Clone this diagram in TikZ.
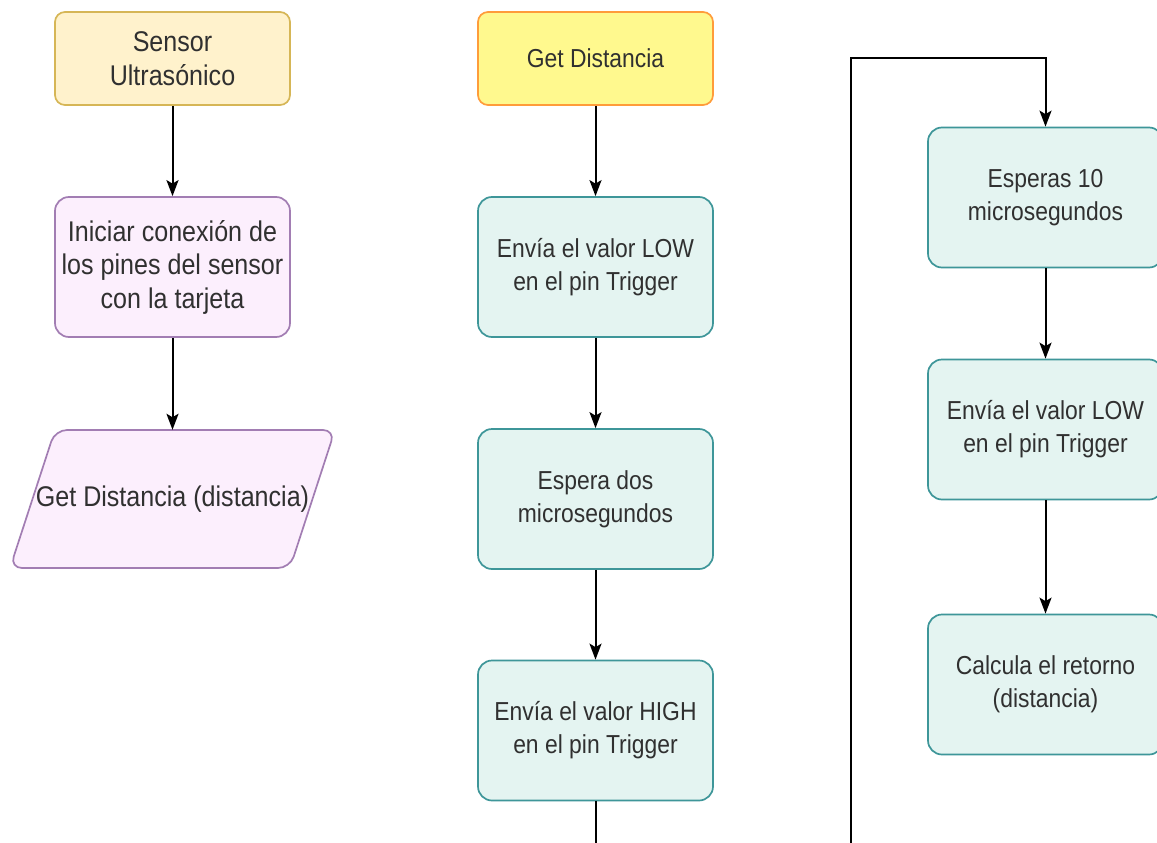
\documentclass[tikz,border=0pt]{standalone}
\usepackage{fontspec}
\setmainfont{Liberation Sans}[FakeStretch=0.88]
\usetikzlibrary{arrows.meta}
\definecolor{txt}{HTML}{303030}
\definecolor{sensfill}{HTML}{FFF2CC}
\definecolor{sensline}{HTML}{D6B656}
\definecolor{purfill}{HTML}{FCEFFD}
\definecolor{purline}{HTML}{A27DB3}
\definecolor{gdfill}{HTML}{FFF98E}
\definecolor{gdline}{HTML}{FF9C3A}
\definecolor{tealfill}{HTML}{E4F4F1}
\definecolor{tealline}{HTML}{3E9699}
\begin{document}
\begin{tikzpicture}[x=1pt,y=-1pt,
  box/.style={rounded corners=14pt, line width=1.7pt, minimum width=235pt,
    minimum height=140pt, align=center, text=txt, inner sep=0pt},
  leftfont/.style={font=\fontsize{28.5}{33.5}\selectfont},
  midfont/.style={font=\fontsize{26}{33}\selectfont},
  tealbox/.style={box, fill=tealfill, draw=tealline, midfont},
  flow/.style={line width=2pt, -{Stealth[length=16pt,width=12pt,inset=3.5pt]}},
  wire/.style={line width=2pt}]
\clip (0,0) rectangle (1157,843);
\fill[white] (0,0) rectangle (1157,843);

% left column
\node[box, leftfont, fill=sensfill, draw=sensline, minimum height=93pt, rounded corners=10pt]
  (sensor) at (172.5,58.5) {Sensor\\Ultrasónico};
\node[box, leftfont, fill=purfill, draw=purline] (init) at (172.5,267)
  {Iniciar conexión de\\los pines del sensor\\con la tarjeta};
\draw[fill=purfill, draw=purline, line width=1.7pt, rounded corners=12pt]
  (55,430) -- (335,430) -- (290,568) -- (10,568) -- cycle;
\node[align=center, text=txt, leftfont, minimum width=280pt, minimum height=138pt, inner sep=0pt]
  (getout) at (172.5,499) {Get Distancia (distancia)};

\draw[flow] (sensor) -- (init);
\draw[flow] (init) -- (getout);

% middle column
\node[box, midfont, fill=gdfill, draw=gdline, minimum height=93pt, rounded corners=10pt]
  (gd) at (595.5,58.5) {Get Distancia};
\node[tealbox] (low) at (595.5,267) {Envía el valor LOW\\en el pin Trigger};
\node[tealbox] (dos) at (595.5,499) {Espera dos\\microsegundos};
\node[tealbox] (high) at (595.5,730.5) {Envía el valor HIGH\\en el pin Trigger};
\coordinate (midend) at (595.5,850);

\draw[flow] (gd) -- (low);
\draw[flow] (low) -- (dos);
\draw[flow] (dos) -- (high);
\draw[wire] (high) -- (midend);

% right column
\node[tealbox] (diez) at (1045.5,197.5) {Esperas 10\\microsegundos};
\node[tealbox] (low2) at (1045.5,429.5) {Envía el valor LOW\\en el pin Trigger};
\node[tealbox] (calc) at (1045.5,684.5) {Calcula el retorno\\(distancia)};
\coordinate (loopstart) at (851,850);

\draw[flow] (loopstart) |- (1045.5,58) -- (diez);
\draw[flow] (diez) -- (low2);
\draw[flow] (low2) -- (calc);
\end{tikzpicture}
\end{document}
